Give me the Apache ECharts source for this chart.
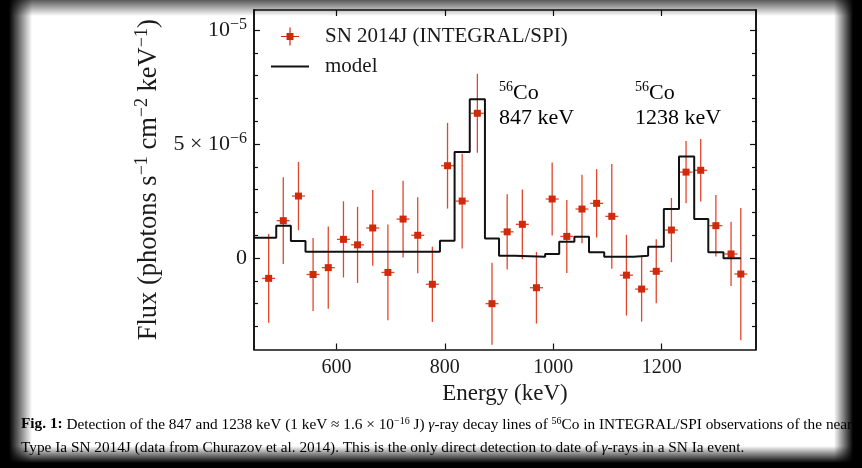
<!DOCTYPE html>
<html>
<head>
<meta charset="utf-8">
<script src="https://cdn.jsdelivr.net/npm/echarts@6/dist/echarts.min.js"></script>
<style>
  html, body { margin: 0; padding: 0; background: #fff; }
  #wrap { position: relative; width: 862px; height: 468px; overflow: hidden; }
  #chart { width: 862px; height: 468px; }
  /* dark photo frame round the page */
  .edge { position: absolute; pointer-events: none; }
  #eTop { left: 0; top: 0; width: 862px; height: 16px; background: linear-gradient(to bottom, rgba(0,0,0,0.65), rgba(0,0,0,0)); }
  #eLeft { left: 0; top: 0; width: 32px; height: 468px; background: linear-gradient(to right, #000 0px, #000 9px, rgba(0,0,0,0) 32px); }
  #eRight { right: 0; top: 0; width: 28px; height: 468px; background: linear-gradient(to left, #000 0px, #000 9px, rgba(0,0,0,0) 28px); }
  #eBottom { left: 0; bottom: 0; width: 862px; height: 22px; background: linear-gradient(to top, #000 0px, #000 5px, rgba(0,0,0,0) 22px); }
</style>
</head>
<body>
<div id="wrap">
  <div id="chart"></div>
  <div class="edge" id="eTop"></div>
  <div class="edge" id="eLeft"></div>
  <div class="edge" id="eRight"></div>
  <div class="edge" id="eBottom"></div>
</div>
<script>
// SN 2014J spectrum, flux in units of 10^-6 photons s^-1 cm^-2 keV^-1
let energy = [475, 502, 530, 557, 585, 613, 639, 667, 695, 723, 750, 777, 805, 832, 860, 887, 915,
              943, 969, 998, 1025, 1053, 1080, 1108, 1135, 1163, 1190, 1218, 1245, 1272, 1300, 1328, 1346]
let flux = [-0.89, 1.64, 2.72, -0.72, -0.42, 0.82, 0.58, 1.32, -0.63, 1.71, 1.0, -1.15, 4.05, 2.5, 6.35, -2.0, 1.15,
            1.48, -1.3, 2.59, 0.95, 2.15, 2.4, 1.83, -0.75, -1.36, -0.58, 1.23, 3.77, 3.85, 1.42, 0.18, -0.7]
let fluxErr = [1.95, 1.9, 1.5, 1.6, 1.8, 1.67, 1.67, 1.66, 2.1, 1.68, 1.67, 1.65, 1.88, 2.08, 1.73, 1.8, 1.65,
               1.53, 1.57, 1.6, 1.6, 1.5, 1.5, 2.3, 1.77, 1.43, 1.4, 1.41, 1.37, 1.37, 1.35, 1.41, 2.9]
let energyErr = 12

// model: step edges (keV) and level from each edge on
let modelEdges = [448, 489, 516, 543, 791, 818, 846, 874, 900, 929, 985, 1011, 1039, 1066, 1094, 1148,
                  1175, 1204, 1232, 1260, 1286, 1314, 1346]
let modelFlux = [0.89, 1.42, 0.75, 0.28, 0.76, 4.65, 6.97, 0.86, 0.10, 0.06, 0.18, 0.72, 0.94, 0.25, 0.06, 0.10,
                 0.50, 2.15, 4.45, 1.71, 0.25, -0.01, -0.01]

let xTicks = [600, 800, 1000, 1200]
let yTicks = [0, 5, 10]
let yTickLabels = ['0', '5 × 10^{−6}', '10^{−5}']
let yMinorTicks = [-3, -2, -1, 1, 2, 3, 4, 6, 7, 8, 9]

let serif = 'Liberation Serif'
let ink = '#1a1a1a'
let barColor = '#e0472c'
let dotColor = '#cf2a0c'

// "a^{b}" -> rich text tokens
function sup(txt){
    let out = ''
    let parts = txt.split(/\^\{([^}]*)\}/)
    parts.forEach(function(p, i){
        if(p === '') return
        out += (i % 2 ? '{s|' : '{n|') + p + '}'
    })
    return out
}
function richStyle(size, supSize, lh){
    return {
        n: {fontFamily: serif, fontSize: size, color: ink, lineHeight: lh},
        s: {fontFamily: serif, fontSize: supSize, color: ink, lineHeight: Math.round(lh * 0.7), verticalAlign: 'top'}
    }
}

let points = energy.map(function(e, i){ return [e, flux[i], fluxErr[i]] })
let model = modelEdges.map(function(e, i){ return [e, modelFlux[i]] })

function renderItem(params, api){
    let x = api.value(0), y = api.value(1), err = api.value(2)
    let c = api.coord([x, y])
    let top = api.coord([x, y + err])
    let bot = api.coord([x, y - err])
    let l = api.coord([x - energyErr, y])
    let r = api.coord([x + energyErr, y])
    return {
        type: 'group',
        children: [
            {type: 'line', shape: {x1: top[0], y1: top[1], x2: bot[0], y2: bot[1]}, style: {stroke: barColor, lineWidth: 1.3}},
            {type: 'line', shape: {x1: l[0], y1: l[1], x2: r[0], y2: r[1]}, style: {stroke: barColor, lineWidth: 1.3}},
            {type: 'rect', shape: {x: c[0] - 3.5, y: c[1] - 3.5, width: 7, height: 7}, style: {fill: dotColor}}
        ]
    }
}

let axisLine = {show: true, onZero: false, lineStyle: {color: '#111', width: 1.6}}
let xMin = 448, xMax = 1374, yMin = -4.01, yMax = 10.88

function xAxisOf(pos, labels){
    return {
        type: 'value', position: pos, min: xMin, max: xMax,
        axisLine: axisLine,
        axisTick: {show: true, inside: true, length: 6, customValues: xTicks, lineStyle: {color: '#111', width: 1.2}},
        axisLabel: {show: labels, customValues: xTicks, margin: 8, fontFamily: serif, fontSize: 20, color: ink,
                    formatter: function(v){ return String(v) }},
        splitLine: {show: false},
        name: labels ? 'Energy (keV)' : '', nameLocation: 'middle', nameGap: 32,
        nameTextStyle: {fontFamily: serif, fontSize: 23, color: ink}
    }
}
function yAxisOf(pos, ticks, len, labels){
    return {
        type: 'value', position: pos, min: yMin, max: yMax,
        axisLine: axisLine,
        axisTick: {show: true, inside: true, length: len, customValues: ticks, lineStyle: {color: '#111', width: 1.2}},
        axisLabel: {
            show: labels, customValues: yTicks, margin: 7,
            formatter: function(v){ return sup(yTickLabels[yTicks.indexOf(Math.round(v))]) },
            rich: richStyle(22, 16, 26)
        },
        splitLine: {show: false},
        name: labels ? sup('Flux (photons s^{−1} cm^{−2} keV^{−1})') : '',
        nameLocation: 'middle', nameGap: 82,
        nameTextStyle: {rich: richStyle(26.5, 18, 32)}
    }
}

let chart = echarts.init(document.getElementById('chart'))
let option = {
    animation: false,
    backgroundColor: '#fff',
    grid: {left: 254, top: 10, width: 502, height: 339.5},
    legend: {
        left: 271, top: 26, orient: 'vertical', padding: 0, itemWidth: 38, itemHeight: 18, itemGap: 9,
        textStyle: {fontFamily: serif, fontSize: 21, color: ink, padding: [0, 0, 0, 11]},
        data: [
            {name: 'SN 2014J (INTEGRAL/SPI)', icon: 'path://M0,8.4H18V9.6H0Z M8.4,0H9.6V18H8.4Z M5.5,5.5H12.5V12.5H5.5Z', itemStyle: {color: dotColor}},
            {name: 'model', icon: 'path://M0,8H38V10H0Z', itemStyle: {color: '#111'}}
        ]
    },
    xAxis: [xAxisOf('bottom', true), xAxisOf('top', false)],
    yAxis: [
        yAxisOf('left', yTicks, 6, true),
        yAxisOf('left', yMinorTicks, 4, false),
        yAxisOf('right', yTicks, 6, false),
        yAxisOf('right', yMinorTicks, 4, false)
    ],
    series: [
        {
            name: 'SN 2014J (INTEGRAL/SPI)', type: 'custom', renderItem: renderItem,
            data: points, itemStyle: {color: dotColor}, z: 2,
            encode: {x: 0, y: 1}
        },
        {
            name: 'model', type: 'line', step: 'end', data: model, showSymbol: false, symbol: 'none',
            lineStyle: {color: '#111', width: 2}, itemStyle: {color: '#111'}, z: 3
        }
    ],
    graphic: [
        {type: 'text', left: 499, top: 80, style: {text: sup('^{56}Co'), rich: richStyle(22, 14, 26)}},
        {type: 'text', left: 499, top: 107, style: {text: sup('847 keV'), rich: richStyle(22, 14, 26)}},
        {type: 'text', left: 635, top: 80, style: {text: sup('^{56}Co'), rich: richStyle(22, 14, 26)}},
        {type: 'text', left: 635, top: 107, style: {text: sup('1238 keV'), rich: richStyle(22, 14, 26)}},
        {type: 'text', left: 21, top: 416, style: {
            text: '{b|Fig. 1:}{n| Detection of the 847 and 1238 keV (1 keV ≈ 1.6 × 10}{s|−16}{n| J) }{i|γ}{n|-ray decay lines of }{s|56}{n|Co in INTEGRAL/SPI observations of the nearby}',
            rich: {
                n: {fontFamily: serif, fontSize: 15.3, color: '#111', lineHeight: 17},
                b: {fontFamily: serif, fontSize: 15.3, color: '#111', lineHeight: 17, fontWeight: 'bold'},
                i: {fontFamily: serif, fontSize: 15.3, color: '#111', lineHeight: 17, fontStyle: 'italic'},
                s: {fontFamily: serif, fontSize: 10, color: '#111', lineHeight: 11, verticalAlign: 'top'}
            }
        }},
        {type: 'text', left: 21, top: 440, style: {
            text: '{n|Type Ia SN 2014J (data from }{c|Churazov et al. 2014}{n|). This is the only direct detection to date of }{i|γ}{n|-rays in a SN Ia event.}',
            rich: {
                n: {fontFamily: serif, fontSize: 15.3, color: '#111', lineHeight: 17},
                c: {fontFamily: serif, fontSize: 15.3, color: '#3442dd', lineHeight: 17},
                i: {fontFamily: serif, fontSize: 15.3, color: '#111', lineHeight: 17, fontStyle: 'italic'}
            }
        }}
    ]
}
chart.setOption(option)
</script>
</body>
</html>
